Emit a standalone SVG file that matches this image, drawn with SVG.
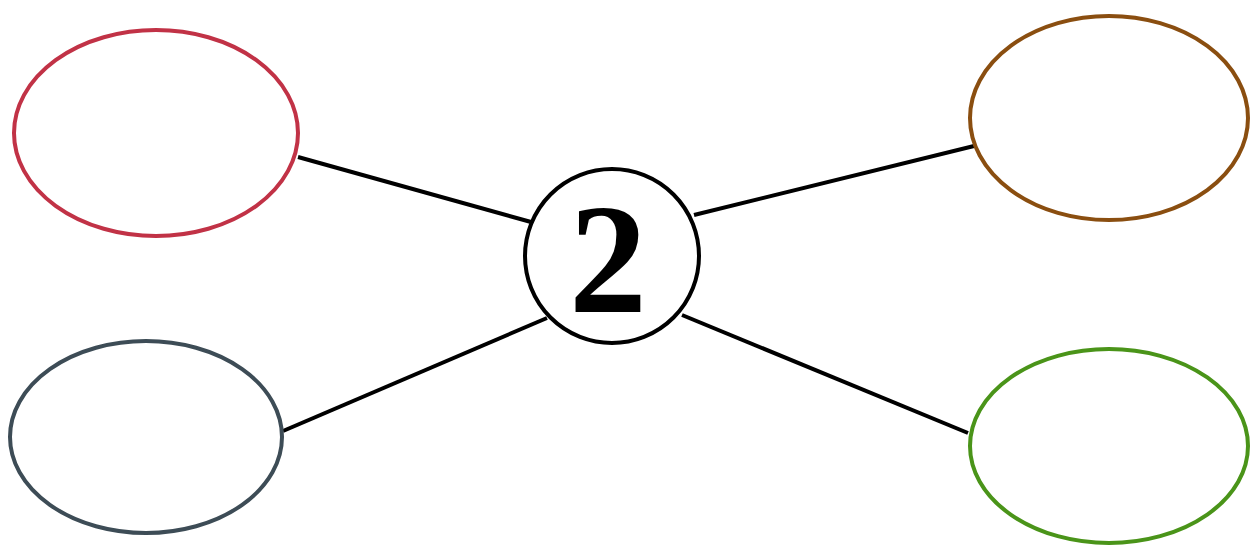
<svg xmlns="http://www.w3.org/2000/svg" width="1250" height="545" viewBox="0 0 1250 545">
<style>
.n{fill:#fff;stroke-width:4}
.c{stroke:#000;stroke-width:4;fill:none}
</style>
<rect width="1250" height="545" fill="#fff"/>
<g id="connectors">
<line class="c" x1="298" y1="157" x2="531" y2="222"/>
<line class="c" x1="283" y1="431" x2="547" y2="318"/>
<line class="c" x1="694" y1="215" x2="974" y2="146"/>
<line class="c" x1="682" y1="315" x2="968" y2="433"/>
</g>
<g id="node-tl"><ellipse class="n" stroke="#c13246" cx="156" cy="133" rx="142" ry="103"/></g>
<g id="node-bl"><ellipse class="n" stroke="#3d4c56" cx="146" cy="437" rx="136" ry="96"/></g>
<g id="node-tr"><ellipse class="n" stroke="#8a4e10" cx="1109" cy="118" rx="139" ry="102"/></g>
<g id="node-br"><ellipse class="n" stroke="#4a9419" cx="1109" cy="446" rx="139" ry="97"/></g>
<g id="node-center">
<circle cx="612" cy="256" r="87" fill="#fff" stroke="#000" stroke-width="4"/>
<text x="608" y="312" text-anchor="middle" style="font-family:'Liberation Serif',serif;font-weight:bold;font-size:156px">2</text>
</g>
</svg>
